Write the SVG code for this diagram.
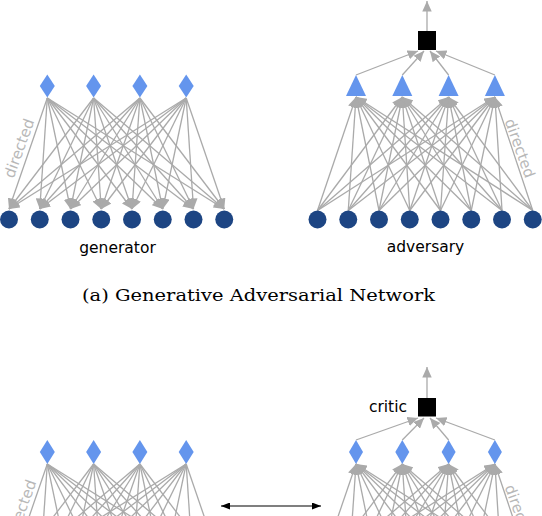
<svg xmlns="http://www.w3.org/2000/svg" width="542" height="516" viewBox="0 0 542 516">
<defs>
<style>
.e{stroke:#aaaaaa;stroke-width:1.3;fill:none;marker-end:url(#ag)}
.en{stroke:#aaaaaa;stroke-width:1.3;fill:none}
.dia{fill:#6495ED}
.tri{fill:#6495ED}
.cir{fill:#1d4583}
.sq{fill:#000000}
.lbl{font-family:"DejaVu Sans",sans-serif;font-size:15.5px;fill:#000}
.dir{font-family:"DejaVu Sans",sans-serif;font-size:15px;fill:#b8b8b8;text-anchor:middle}
.cap{font-family:"DejaVu Serif",serif;font-size:17px;fill:#000}
</style>
<marker id="ag" viewBox="0 0 10 9" refX="10" refY="4.5" markerWidth="10.5" markerHeight="9.5" markerUnits="userSpaceOnUse" orient="auto"><path d="M0,0 L10,4.5 L0,9 z" fill="#aaaaaa"/></marker>
<marker id="ab" viewBox="0 0 9 7" refX="9" refY="3.5" markerWidth="9" markerHeight="7" markerUnits="userSpaceOnUse" orient="auto-start-reverse"><path d="M0,0 L9,3.5 L0,7 z" fill="#000"/></marker>
</defs>
<rect width="542" height="516" fill="#fff"/>

<g id="connectors">
<!-- generator top -->
<line class="e" x1="47.3" y1="98" x2="9" y2="209"/><line class="e" x1="47.3" y1="98" x2="39.75" y2="209"/><line class="e" x1="47.3" y1="98" x2="70.5" y2="209"/><line class="e" x1="47.3" y1="98" x2="101.25" y2="209"/><line class="e" x1="47.3" y1="98" x2="132" y2="209"/><line class="e" x1="47.3" y1="98" x2="162.75" y2="209"/><line class="e" x1="47.3" y1="98" x2="193.5" y2="209"/><line class="e" x1="47.3" y1="98" x2="224.25" y2="209"/>
<line class="e" x1="93.6" y1="98" x2="9" y2="209"/><line class="e" x1="93.6" y1="98" x2="39.75" y2="209"/><line class="e" x1="93.6" y1="98" x2="70.5" y2="209"/><line class="e" x1="93.6" y1="98" x2="101.25" y2="209"/><line class="e" x1="93.6" y1="98" x2="132" y2="209"/><line class="e" x1="93.6" y1="98" x2="162.75" y2="209"/><line class="e" x1="93.6" y1="98" x2="193.5" y2="209"/><line class="e" x1="93.6" y1="98" x2="224.25" y2="209"/>
<line class="e" x1="139.9" y1="98" x2="9" y2="209"/><line class="e" x1="139.9" y1="98" x2="39.75" y2="209"/><line class="e" x1="139.9" y1="98" x2="70.5" y2="209"/><line class="e" x1="139.9" y1="98" x2="101.25" y2="209"/><line class="e" x1="139.9" y1="98" x2="132" y2="209"/><line class="e" x1="139.9" y1="98" x2="162.75" y2="209"/><line class="e" x1="139.9" y1="98" x2="193.5" y2="209"/><line class="e" x1="139.9" y1="98" x2="224.25" y2="209"/>
<line class="e" x1="186.2" y1="98" x2="9" y2="209"/><line class="e" x1="186.2" y1="98" x2="39.75" y2="209"/><line class="e" x1="186.2" y1="98" x2="70.5" y2="209"/><line class="e" x1="186.2" y1="98" x2="101.25" y2="209"/><line class="e" x1="186.2" y1="98" x2="132" y2="209"/><line class="e" x1="186.2" y1="98" x2="162.75" y2="209"/><line class="e" x1="186.2" y1="98" x2="193.5" y2="209"/><line class="e" x1="186.2" y1="98" x2="224.25" y2="209"/>
<!-- adversary top -->
<line class="e" x1="317.5" y1="210.5" x2="356" y2="97"/><line class="e" x1="348.25" y1="210.5" x2="356" y2="97"/><line class="e" x1="379" y1="210.5" x2="356" y2="97"/><line class="e" x1="409.75" y1="210.5" x2="356" y2="97"/><line class="e" x1="440.5" y1="210.5" x2="356" y2="97"/><line class="e" x1="471.25" y1="210.5" x2="356" y2="97"/><line class="e" x1="502" y1="210.5" x2="356" y2="97"/><line class="e" x1="532.75" y1="210.5" x2="356" y2="97"/>
<line class="e" x1="317.5" y1="210.5" x2="402.3" y2="97"/><line class="e" x1="348.25" y1="210.5" x2="402.3" y2="97"/><line class="e" x1="379" y1="210.5" x2="402.3" y2="97"/><line class="e" x1="409.75" y1="210.5" x2="402.3" y2="97"/><line class="e" x1="440.5" y1="210.5" x2="402.3" y2="97"/><line class="e" x1="471.25" y1="210.5" x2="402.3" y2="97"/><line class="e" x1="502" y1="210.5" x2="402.3" y2="97"/><line class="e" x1="532.75" y1="210.5" x2="402.3" y2="97"/>
<line class="e" x1="317.5" y1="210.5" x2="448.6" y2="97"/><line class="e" x1="348.25" y1="210.5" x2="448.6" y2="97"/><line class="e" x1="379" y1="210.5" x2="448.6" y2="97"/><line class="e" x1="409.75" y1="210.5" x2="448.6" y2="97"/><line class="e" x1="440.5" y1="210.5" x2="448.6" y2="97"/><line class="e" x1="471.25" y1="210.5" x2="448.6" y2="97"/><line class="e" x1="502" y1="210.5" x2="448.6" y2="97"/><line class="e" x1="532.75" y1="210.5" x2="448.6" y2="97"/>
<line class="e" x1="317.5" y1="210.5" x2="494.9" y2="97"/><line class="e" x1="348.25" y1="210.5" x2="494.9" y2="97"/><line class="e" x1="379" y1="210.5" x2="494.9" y2="97"/><line class="e" x1="409.75" y1="210.5" x2="494.9" y2="97"/><line class="e" x1="440.5" y1="210.5" x2="494.9" y2="97"/><line class="e" x1="471.25" y1="210.5" x2="494.9" y2="97"/><line class="e" x1="502" y1="210.5" x2="494.9" y2="97"/><line class="e" x1="532.75" y1="210.5" x2="494.9" y2="97"/>
<!-- triangles to square, output -->
<line class="e" x1="356" y1="75" x2="418" y2="51"/><line class="e" x1="402.3" y1="75" x2="424" y2="51"/><line class="e" x1="448.6" y1="75" x2="430" y2="51"/><line class="e" x1="494.9" y1="75" x2="436" y2="51"/>
<line class="e" x1="427" y1="31" x2="427" y2="1"/>
<!-- generator bottom -->
<line class="en" x1="47.3" y1="464" x2="9" y2="575"/><line class="en" x1="47.3" y1="464" x2="39.75" y2="575"/><line class="en" x1="47.3" y1="464" x2="70.5" y2="575"/><line class="en" x1="47.3" y1="464" x2="101.25" y2="575"/><line class="en" x1="47.3" y1="464" x2="132" y2="575"/><line class="en" x1="47.3" y1="464" x2="162.75" y2="575"/><line class="en" x1="47.3" y1="464" x2="193.5" y2="575"/><line class="en" x1="47.3" y1="464" x2="224.25" y2="575"/>
<line class="en" x1="93.6" y1="464" x2="9" y2="575"/><line class="en" x1="93.6" y1="464" x2="39.75" y2="575"/><line class="en" x1="93.6" y1="464" x2="70.5" y2="575"/><line class="en" x1="93.6" y1="464" x2="101.25" y2="575"/><line class="en" x1="93.6" y1="464" x2="132" y2="575"/><line class="en" x1="93.6" y1="464" x2="162.75" y2="575"/><line class="en" x1="93.6" y1="464" x2="193.5" y2="575"/><line class="en" x1="93.6" y1="464" x2="224.25" y2="575"/>
<line class="en" x1="139.9" y1="464" x2="9" y2="575"/><line class="en" x1="139.9" y1="464" x2="39.75" y2="575"/><line class="en" x1="139.9" y1="464" x2="70.5" y2="575"/><line class="en" x1="139.9" y1="464" x2="101.25" y2="575"/><line class="en" x1="139.9" y1="464" x2="132" y2="575"/><line class="en" x1="139.9" y1="464" x2="162.75" y2="575"/><line class="en" x1="139.9" y1="464" x2="193.5" y2="575"/><line class="en" x1="139.9" y1="464" x2="224.25" y2="575"/>
<line class="en" x1="186.2" y1="464" x2="9" y2="575"/><line class="en" x1="186.2" y1="464" x2="39.75" y2="575"/><line class="en" x1="186.2" y1="464" x2="70.5" y2="575"/><line class="en" x1="186.2" y1="464" x2="101.25" y2="575"/><line class="en" x1="186.2" y1="464" x2="132" y2="575"/><line class="en" x1="186.2" y1="464" x2="162.75" y2="575"/><line class="en" x1="186.2" y1="464" x2="193.5" y2="575"/><line class="en" x1="186.2" y1="464" x2="224.25" y2="575"/>
<!-- critic bottom -->
<line class="e" x1="317.5" y1="576.5" x2="356" y2="464"/><line class="e" x1="348.25" y1="576.5" x2="356" y2="464"/><line class="e" x1="379" y1="576.5" x2="356" y2="464"/><line class="e" x1="409.75" y1="576.5" x2="356" y2="464"/><line class="e" x1="440.5" y1="576.5" x2="356" y2="464"/><line class="e" x1="471.25" y1="576.5" x2="356" y2="464"/><line class="e" x1="502" y1="576.5" x2="356" y2="464"/><line class="e" x1="532.75" y1="576.5" x2="356" y2="464"/>
<line class="e" x1="317.5" y1="576.5" x2="402.3" y2="464"/><line class="e" x1="348.25" y1="576.5" x2="402.3" y2="464"/><line class="e" x1="379" y1="576.5" x2="402.3" y2="464"/><line class="e" x1="409.75" y1="576.5" x2="402.3" y2="464"/><line class="e" x1="440.5" y1="576.5" x2="402.3" y2="464"/><line class="e" x1="471.25" y1="576.5" x2="402.3" y2="464"/><line class="e" x1="502" y1="576.5" x2="402.3" y2="464"/><line class="e" x1="532.75" y1="576.5" x2="402.3" y2="464"/>
<line class="e" x1="317.5" y1="576.5" x2="448.6" y2="464"/><line class="e" x1="348.25" y1="576.5" x2="448.6" y2="464"/><line class="e" x1="379" y1="576.5" x2="448.6" y2="464"/><line class="e" x1="409.75" y1="576.5" x2="448.6" y2="464"/><line class="e" x1="440.5" y1="576.5" x2="448.6" y2="464"/><line class="e" x1="471.25" y1="576.5" x2="448.6" y2="464"/><line class="e" x1="502" y1="576.5" x2="448.6" y2="464"/><line class="e" x1="532.75" y1="576.5" x2="448.6" y2="464"/>
<line class="e" x1="317.5" y1="576.5" x2="494.9" y2="464"/><line class="e" x1="348.25" y1="576.5" x2="494.9" y2="464"/><line class="e" x1="379" y1="576.5" x2="494.9" y2="464"/><line class="e" x1="409.75" y1="576.5" x2="494.9" y2="464"/><line class="e" x1="440.5" y1="576.5" x2="494.9" y2="464"/><line class="e" x1="471.25" y1="576.5" x2="494.9" y2="464"/><line class="e" x1="502" y1="576.5" x2="494.9" y2="464"/><line class="e" x1="532.75" y1="576.5" x2="494.9" y2="464"/>
<line class="e" x1="356" y1="440" x2="418" y2="418"/><line class="e" x1="402.3" y1="440" x2="424" y2="418"/><line class="e" x1="448.6" y1="440" x2="430" y2="418"/><line class="e" x1="494.9" y1="440" x2="436" y2="418"/>
<line class="e" x1="427" y1="398" x2="427" y2="367"/>
<!-- double arrow -->
<line x1="221" y1="506" x2="321" y2="506" stroke="#000" stroke-width="1.2" marker-start="url(#ab)" marker-end="url(#ab)"/>
</g>

<g id="generator-top">
<g id="g-z1"><polygon class="dia" points="47.3,74.5 54.8,86 47.3,97.5 39.8,86"/></g>
<g id="g-z2"><polygon class="dia" points="93.6,74.5 101.1,86 93.6,97.5 86.1,86"/></g>
<g id="g-z3"><polygon class="dia" points="139.9,74.5 147.4,86 139.9,97.5 132.4,86"/></g>
<g id="g-z4"><polygon class="dia" points="186.2,74.5 193.7,86 186.2,97.5 178.7,86"/></g>
<g id="g-x1"><circle class="cir" cx="9" cy="219.5" r="9"/></g>
<g id="g-x2"><circle class="cir" cx="39.75" cy="219.5" r="9"/></g>
<g id="g-x3"><circle class="cir" cx="70.5" cy="219.5" r="9"/></g>
<g id="g-x4"><circle class="cir" cx="101.25" cy="219.5" r="9"/></g>
<g id="g-x5"><circle class="cir" cx="132" cy="219.5" r="9"/></g>
<g id="g-x6"><circle class="cir" cx="162.75" cy="219.5" r="9"/></g>
<g id="g-x7"><circle class="cir" cx="193.5" cy="219.5" r="9"/></g>
<g id="g-x8"><circle class="cir" cx="224.25" cy="219.5" r="9"/></g>
<text class="lbl" x="117.5" y="253" text-anchor="middle">generator</text>
<text class="dir" x="24" y="150" transform="rotate(-70 24 150)">directed</text>
</g>

<g id="adversary-top">
<g id="a-x1"><circle class="cir" cx="317.5" cy="219.5" r="9"/></g>
<g id="a-x2"><circle class="cir" cx="348.25" cy="219.5" r="9"/></g>
<g id="a-x3"><circle class="cir" cx="379" cy="219.5" r="9"/></g>
<g id="a-x4"><circle class="cir" cx="409.75" cy="219.5" r="9"/></g>
<g id="a-x5"><circle class="cir" cx="440.5" cy="219.5" r="9"/></g>
<g id="a-x6"><circle class="cir" cx="471.25" cy="219.5" r="9"/></g>
<g id="a-x7"><circle class="cir" cx="502" cy="219.5" r="9"/></g>
<g id="a-x8"><circle class="cir" cx="532.75" cy="219.5" r="9"/></g>
<g id="a-h1"><polygon class="tri" points="356,75 366,96 346,96"/></g>
<g id="a-h2"><polygon class="tri" points="402.3,75 412.3,96 392.3,96"/></g>
<g id="a-h3"><polygon class="tri" points="448.6,75 458.6,96 438.6,96"/></g>
<g id="a-h4"><polygon class="tri" points="494.9,75 504.9,96 484.9,96"/></g>
<g id="a-out"><rect class="sq" x="418" y="31" width="18" height="19"/></g>
<text class="lbl" x="425.5" y="252" text-anchor="middle">adversary</text>
<text class="dir" x="515" y="150" transform="rotate(70 515 150)">directed</text>
</g>

<g id="caption-a">
<text class="cap" x="82" y="301" textLength="353" lengthAdjust="spacingAndGlyphs">(a) Generative Adversarial Network</text>
</g>

<g id="generator-bottom">
<g id="g2-z1"><polygon class="dia" points="47.3,440 54.8,452 47.3,464 39.8,452"/></g>
<g id="g2-z2"><polygon class="dia" points="93.6,440 101.1,452 93.6,464 86.1,452"/></g>
<g id="g2-z3"><polygon class="dia" points="139.9,440 147.4,452 139.9,464 132.4,452"/></g>
<g id="g2-z4"><polygon class="dia" points="186.2,440 193.7,452 186.2,464 178.7,452"/></g>
<text class="dir" x="26" y="511" transform="rotate(-70 26 511)">directed</text>
</g>

<g id="critic-bottom">
<g id="c-h1"><polygon class="dia" points="356,440 363,452 356,464 349,452"/></g>
<g id="c-h2"><polygon class="dia" points="402.3,440 409.3,452 402.3,464 395.3,452"/></g>
<g id="c-h3"><polygon class="dia" points="448.6,440 455.6,452 448.6,464 441.6,452"/></g>
<g id="c-h4"><polygon class="dia" points="494.9,440 501.9,452 494.9,464 487.9,452"/></g>
<g id="c-out"><rect class="sq" x="418" y="398" width="18" height="18.5"/></g>
<text class="lbl" x="407" y="412" text-anchor="end">critic</text>
<text class="dir" x="515" y="516" transform="rotate(70 515 516)">directed</text>
</g>
</svg>
